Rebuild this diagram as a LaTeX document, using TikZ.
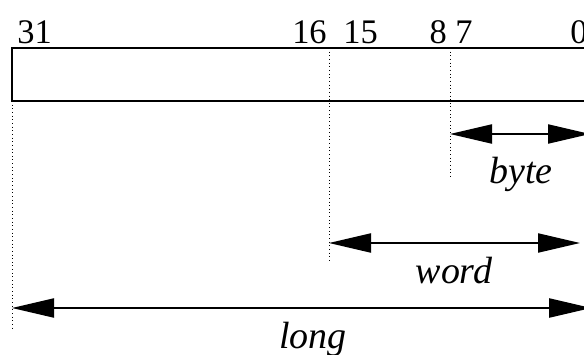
\documentclass[tikz,border=0pt]{standalone}
\usepackage{fontspec}
\setmainfont{Liberation Serif}
\usetikzlibrary{arrows.meta}

\tikzset{
  bitnum/.style={font=\fontsize{24.5}{28}\selectfont, inner sep=0pt},
  sizename/.style={anchor=base, font=\fontsize{27}{30}\selectfont\itshape, inner sep=0pt},
  boundary/.style={dotted, line width=0.6pt},
  sizearrow/.style={{Triangle[length=1.05cm,width=0.48cm]}-{Triangle[length=1.05cm,width=0.48cm]}, line width=1pt}
}

\begin{document}
\begin{tikzpicture}

        \clip (0,0) rectangle (14.6,8.85);

        % register
            \draw[line width=1.1pt] (0.3,6.325) rectangle (14.9,7.65);
            \node[bitnum, anchor=base west] (n31) at (0.425,7.775) {31};
            \node[bitnum, anchor=base east] (n16) at (8.175,7.775) {16};
            \node[bitnum, anchor=base west] (n15) at (8.575,7.775) {15};
            \node[bitnum, anchor=base east] (n8) at (11.175,7.775) {8};
            \node[bitnum, anchor=base west] (n7) at (11.375,7.775) {7};
            \node[bitnum, anchor=base west] (n0) at (14.25,7.775) {0};

        % boundaries
            \coordinate (top16) at (8.225,7.65);
            \coordinate (top8) at (11.25,7.65);
            \coordinate (bot31) at (0.3,6.325);
            \coordinate (end31) at (0.3,0.6);
            \coordinate (end16) at (8.225,2.275);
            \coordinate (end8) at (11.25,4.425);
            \draw[boundary] (bot31) -- (end31);
            \draw[boundary] (top16) -- (end16);
            \draw[boundary] (top8) -- (end8);

        % sizes
            \coordinate (byteL) at (11.25,5.5);
            \coordinate (byteR) at (14.75,5.5);
            \coordinate (wordL) at (8.225,2.775);
            \coordinate (wordR) at (14.5,2.775);
            \coordinate (longL) at (0.3,1.15);
            \coordinate (longR) at (14.78,1.15);
            \draw[sizearrow] (byteL) -- (byteR);
            \draw[sizearrow] (wordL) -- (wordR);
            \draw[sizearrow] (longL) -- (longR);
            \node[sizename] (byte) at (13.025,4.275) {byte};
            \node[sizename] (word) at (11.35,1.775) {word};
            \node[sizename] (long) at (7.825,0.15) {long};

\end{tikzpicture}
\end{document}
